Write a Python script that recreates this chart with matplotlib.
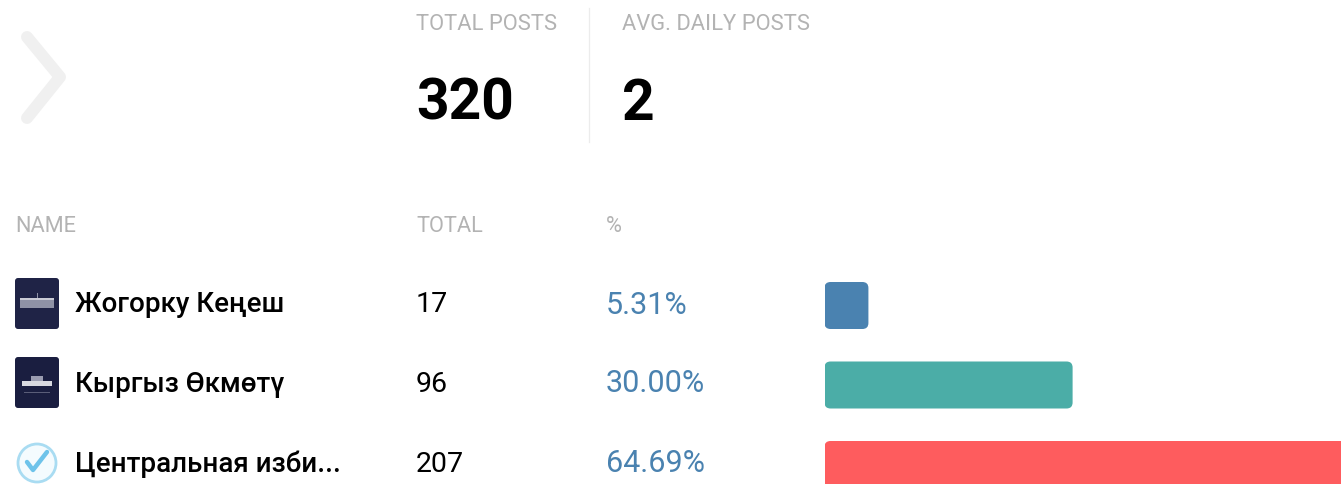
import matplotlib
matplotlib.use("Agg")
import matplotlib.pyplot as plt
from matplotlib.patches import FancyBboxPatch, Circle, Rectangle
from matplotlib.lines import Line2D

plt.rcParams['font.family'] = ['Roboto', 'DejaVu Sans']

names = ["Жогорку Кеңеш", "Кыргыз Өкмөтү", "Центральная изби..."]
totals = [17, 96, 207]
percents = [5.31, 30.00, 64.69]
bar_colors = ["#4a82b0", "#4badA7", "#fe5c5e"]
stat_labels = ["TOTAL POSTS", "AVG. DAILY POSTS"]
stat_values = ["320", "2"]
col_headers = ["NAME", "TOTAL", "%"]

W, H = 1341, 484
fig = plt.figure(figsize=(W / 100, H / 100), dpi=100, facecolor="white")

pg = fig.add_axes([0, 0, 1, 1])
pg.set_xlim(0, W)
pg.set_ylim(H, 0)
pg.axis("off")

pg.add_line(Line2D([27, 60, 27], [37, 77, 118], color="#f0f0f0", lw=8.6,
                   solid_capstyle="round", solid_joinstyle="round"))
pg.add_line(Line2D([589, 589], [8, 142], color="#ececec", lw=0.9))

GREY = "#b3b3b3"
for x, lab in zip([416, 622], stat_labels):
    pg.text(x, 25, lab, color=GREY, fontsize=15.8, va="center", ha="left")
for x, val in zip([416, 622], stat_values):
    pg.text(x, 104, val, color="black", fontsize=41, fontweight="bold", va="center", ha="left")
for x, lab in zip([15, 416, 606], col_headers):
    pg.text(x, 227, lab, color=GREY, fontsize=15.7, va="center", ha="left")

row_y = [305, 384, 464]
for y, name, tot, pct in zip(row_y, names, totals, percents):
    pg.text(75, y, name, color="black", fontsize=20, fontweight="medium", va="center", ha="left")
    pg.text(416, y, str(tot), color="black", fontsize=20.5, va="center", ha="left")
    pg.text(606, y, f"{pct:.2f}%", color="#4a82b0", fontsize=22, va="center", ha="left")

# icons
for y, fc in zip([304, 383], ["#1f2346", "#1a1e40"]):
    pg.add_patch(FancyBboxPatch((15, y - 26), 44, 51, boxstyle="round,pad=0,rounding_size=3",
                                fc=fc, ec="none"))
pg.add_patch(Rectangle((20, 299), 34, 9, fc="#8f92a6", ec="none"))
pg.add_patch(Rectangle((20, 298), 34, 2, fc="#c9cad4", ec="none"))
pg.add_patch(Rectangle((37, 293), 1, 5, fc="#8f92a6", ec="none"))
pg.add_patch(Rectangle((22, 381), 30, 5, fc="#d8d9e0", ec="none"))
pg.add_patch(Rectangle((31, 376), 12, 5, fc="#9a9cb0", ec="none"))
pg.add_patch(Rectangle((24, 392), 26, 1, fc="#5a5d78", ec="none"))
pg.add_patch(Circle((37, 463), 19, fc="#f4fbfe", ec="#a9dcf2", lw=2))
pg.add_line(Line2D([27, 33, 47], [462, 470, 452], color="#6ec3ea", lw=3.2,
                   solid_capstyle="round", solid_joinstyle="round"))

# bars, driven by the percent values
PX_PER_PCT = 8.27
left, right = 824.5, W
ax = fig.add_axes([left / W, 0, (right - left) / W, 1])
ax.set_xlim(0, (right - left) / PX_PER_PCT)
ROW = 79.5
ax.set_ylim((H - 305.5) / ROW, -305.5 / ROW)
ax.axis("off")
ax.patch.set_alpha(0)
for i, (pct, c) in enumerate(zip(percents, bar_colors)):
    bh = 47 / ROW
    ax.add_patch(FancyBboxPatch((0, i - bh / 2), pct, bh,
                                boxstyle=f"round,pad=0,rounding_size={6 / PX_PER_PCT}",
                                mutation_aspect=PX_PER_PCT / ROW, fc=c, ec="none"))

fig.savefig("out.png", dpi=100)
